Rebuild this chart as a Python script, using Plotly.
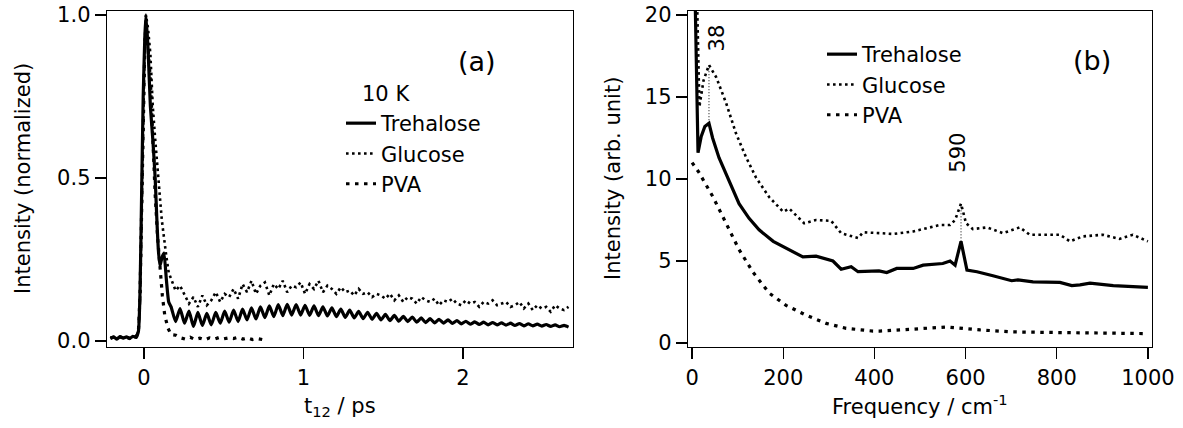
import plotly.graph_objects as go

# ---------------- Panel (a): time domain ----------------
t_early = [-0.21, -0.19, -0.17, -0.15, -0.13, -0.11, -0.09, -0.07, -0.05, -0.035,
           -0.025, -0.015, -0.005, 0.005, 0.012, 0.025, 0.04, 0.055, 0.07, 0.08,
           0.09, 0.1, 0.112, 0.125, 0.14, 0.155]
tre_early = [0.008, 0.013, 0.006, 0.014, 0.009, 0.013, 0.008, 0.015, 0.012, 0.03,
             0.15, 0.45, 0.75, 0.93, 1.0, 0.9, 0.72, 0.62, 0.5, 0.38,
             0.28, 0.23, 0.255, 0.27, 0.19, 0.12]
glu_early = [0.01, 0.012, 0.008, 0.013, 0.01, 0.012, 0.009, 0.014, 0.012, 0.03,
             0.12, 0.4, 0.72, 0.92, 1.0, 0.96, 0.88, 0.72, 0.62, 0.55,
             0.48, 0.44, 0.37, 0.31, 0.26, 0.21]

t_late = [0.170, 0.198, 0.226, 0.254, 0.282, 0.310, 0.338, 0.366, 0.394, 0.422,
          0.450, 0.478, 0.506, 0.534, 0.562, 0.590, 0.618, 0.646, 0.674, 0.702,
          0.730, 0.758, 0.786, 0.814, 0.842, 0.870, 0.898, 0.926, 0.954, 0.982,
          1.010, 1.038, 1.066, 1.094, 1.122, 1.150, 1.178, 1.206, 1.234, 1.262,
          1.290, 1.318, 1.346, 1.374, 1.402, 1.430, 1.458, 1.486, 1.514, 1.542,
          1.570, 1.598, 1.626, 1.654, 1.682, 1.710, 1.738, 1.766, 1.794, 1.822,
          1.850, 1.878, 1.906, 1.934, 1.962, 1.990, 2.018, 2.046, 2.074, 2.102,
          2.130, 2.158, 2.186, 2.214, 2.242, 2.270, 2.298, 2.326, 2.354, 2.382,
          2.410, 2.438, 2.466, 2.494, 2.522, 2.550, 2.578, 2.606, 2.634, 2.662]
tre_late = [0.105, 0.060, 0.100, 0.055, 0.092, 0.045, 0.088, 0.048, 0.085, 0.050,
            0.088, 0.055, 0.092, 0.058, 0.095, 0.060, 0.098, 0.065, 0.102, 0.068,
            0.105, 0.072, 0.108, 0.075, 0.112, 0.078, 0.113, 0.080, 0.112, 0.080,
            0.110, 0.079, 0.108, 0.078, 0.105, 0.077, 0.102, 0.075, 0.098, 0.073,
            0.095, 0.071, 0.091, 0.069, 0.088, 0.067, 0.085, 0.065, 0.082, 0.063,
            0.079, 0.061, 0.076, 0.060, 0.074, 0.058, 0.071, 0.057, 0.069, 0.056,
            0.067, 0.055, 0.065, 0.054, 0.063, 0.053, 0.061, 0.052, 0.059, 0.051,
            0.058, 0.050, 0.057, 0.050, 0.056, 0.049, 0.055, 0.048, 0.054, 0.047,
            0.053, 0.047, 0.052, 0.046, 0.051, 0.045, 0.050, 0.044, 0.048, 0.043]
glu_late = [0.19, 0.155, 0.17, 0.14, 0.115, 0.135, 0.105, 0.14, 0.11, 0.125,
            0.15, 0.12, 0.145, 0.135, 0.16, 0.13, 0.175, 0.15, 0.185, 0.145,
            0.17, 0.18, 0.14, 0.175, 0.16, 0.185, 0.15, 0.17, 0.165, 0.18,
            0.145, 0.175, 0.16, 0.185, 0.15, 0.17, 0.16, 0.145, 0.165, 0.15,
            0.155, 0.14, 0.16, 0.145, 0.15, 0.135, 0.145, 0.14, 0.13, 0.145,
            0.125, 0.14, 0.12, 0.135, 0.13, 0.115, 0.135, 0.125, 0.12, 0.13,
            0.11, 0.125, 0.12, 0.13, 0.115, 0.11, 0.125, 0.115, 0.12, 0.105,
            0.12, 0.115, 0.125, 0.11, 0.115, 0.12, 0.105, 0.11, 0.12, 0.10,
            0.115, 0.095, 0.11, 0.10, 0.105, 0.09, 0.11, 0.10, 0.095, 0.105]

pva_t = [-0.21, -0.19, -0.17, -0.15, -0.13, -0.11, -0.09, -0.07, -0.05, -0.035,
         -0.025, -0.015, -0.005, 0.005, 0.012, 0.025, 0.04, 0.055, 0.07, 0.085,
         0.1, 0.115, 0.13, 0.15, 0.17, 0.2, 0.23, 0.26, 0.29, 0.32,
         0.35, 0.38, 0.41, 0.44, 0.47, 0.5, 0.53, 0.56, 0.59, 0.62,
         0.65, 0.68, 0.71, 0.74, 0.77]
pva_I = [0.01, 0.012, 0.008, 0.013, 0.009, 0.012, 0.008, 0.014, 0.012, 0.03,
         0.14, 0.42, 0.72, 0.9, 0.96, 0.9, 0.8, 0.62, 0.45, 0.32,
         0.22, 0.14, 0.08, 0.04, 0.02, 0.018, 0.01, 0.006, 0.012, 0.005,
         0.009, 0.004, 0.01, 0.006, 0.011, 0.007, 0.01, 0.008, 0.012, 0.006,
         0.01, 0.005, 0.008, 0.004, 0.002]

tre_t = t_early + t_late
tre_I = tre_early + tre_late
glu_t = t_early + t_late
glu_I = glu_early + glu_late

# ---------------- Panel (b): frequency domain ----------------
f_tre = [6, 13, 20, 28, 37, 45, 59, 81, 103, 125, 147, 178, 206, 228, 243, 272, 294,
         309, 327, 349, 364, 410, 427, 449, 485, 507, 550, 566, 577, 590, 603, 625,
         660, 701, 715, 748, 807, 833, 851, 873, 924, 960, 1000]
s_tre = [22.0, 11.6, 12.6, 13.2, 13.4, 12.5, 11.3, 9.9, 8.5, 7.6, 6.9, 6.2, 5.8, 5.5,
         5.25, 5.3, 5.1, 5.0, 4.5, 4.65, 4.35, 4.4, 4.3, 4.55, 4.55, 4.75, 4.85, 5.0,
         4.75, 6.2, 4.45, 4.35, 4.1, 3.8, 3.85, 3.73, 3.7, 3.5, 3.55, 3.65, 3.5, 3.43, 3.4]
f_glu = [10, 16, 25, 37, 53, 75, 96, 118, 140, 169, 200, 213, 246, 272, 305, 327, 364,
         375, 412, 441, 485, 515, 544, 566, 577, 590, 601, 616, 647, 682, 719, 741,
         807, 829, 857, 901, 938, 967, 1000]
s_glu = [22.0, 14.4, 16.0, 16.95, 16.2, 14.6, 12.8, 11.35, 10.1, 8.9, 8.0, 8.2, 7.3,
         7.5, 7.45, 6.7, 6.4, 6.75, 6.7, 6.65, 6.8, 7.0, 7.2, 7.2, 7.5, 8.5, 7.3, 6.95,
         7.05, 6.7, 7.05, 6.6, 6.6, 6.2, 6.5, 6.6, 6.35, 6.6, 6.2]
f_pva = [0, 15, 46, 75, 103, 134, 169, 206, 250, 294, 338, 397, 412, 485, 559, 632,
         704, 779, 851, 923, 989]
s_pva = [11.0, 10.4, 8.9, 7.3, 5.7, 4.3, 3.05, 2.3, 1.7, 1.2, 0.9, 0.73, 0.73, 0.85,
         0.98, 0.8, 0.68, 0.65, 0.62, 0.6, 0.58]

peak_freqs = [37, 590]
peak_labels = ["38", "590"]

names = ["Trehalose", "Glucose", "PVA"]

FONT = "DejaVu Sans, Liberation Sans, Arial, sans-serif"
FS = 21
W, H = 1183, 428

styles = {
    "Trehalose": dict(color="black", width=3.2),
    "Glucose": dict(color="black", width=2.6, dash="2.6px,3.4px"),
    "PVA": dict(color="black", width=3.2, dash="3.5px,5.5px"),
}

fig = go.Figure()

for nm, xs, ys in zip(names, [tre_t, glu_t, pva_t], [tre_I, glu_I, pva_I]):
    line = dict(styles[nm])
    if nm == "Trehalose":
        line.update(shape="spline", smoothing=0.5)
    fig.add_trace(go.Scatter(x=xs, y=ys, mode="lines", name=nm, line=line,
                             xaxis="x", yaxis="y", legend="legend"))

for nm, xs, ys in zip(names, [f_tre, f_glu, f_pva], [s_tre, s_glu, s_pva]):
    fig.add_trace(go.Scatter(x=xs, y=ys, mode="lines", name=nm, line=styles[nm],
                             xaxis="x2", yaxis="y2", legend="legend2"))

# thin dotted connectors between trehalose and glucose peaks
for pf in peak_freqs:
    yt = s_tre[f_tre.index(pf)]
    yg = s_glu[f_glu.index(pf)]
    fig.add_trace(go.Scatter(x=[pf, pf], y=[yt, yg], mode="lines", showlegend=False,
                             line=dict(color="black", width=1, dash="1px,2px"),
                             xaxis="x2", yaxis="y2"))

# screen-pixel -> paper fraction
px = lambda v: v / W
py = lambda v: 1 - v / H

axis_common = dict(showline=True, mirror=True, linecolor="black", linewidth=1.3,
                   ticks="outside", ticklen=11, tickwidth=1.3, tickcolor="black",
                   showgrid=False, zeroline=False, automargin=False,
                   ticklabeloverflow="allow",
                   tickfont=dict(family=FONT, size=FS, color="black"))

fig.update_layout(
    width=W, height=H,
    margin=dict(l=0, r=0, t=0, b=0, autoexpand=False),
    paper_bgcolor="white", plot_bgcolor="white",
    xaxis=dict(domain=[px(107), px(573)], range=[-0.232, 2.69], tickvals=[0, 1, 2],
               anchor="y", **axis_common),
    yaxis=dict(domain=[py(347), py(11)], range=[-0.018, 1.012],
               tickvals=[0, 0.5, 1.0], tickformat=".1f", anchor="x", **axis_common),
    xaxis2=dict(domain=[px(688), px(1152)], range=[-9, 1009],
                tickvals=[0, 200, 400, 600, 800, 1000], anchor="y2", **axis_common),
    yaxis2=dict(domain=[py(347), py(11)], range=[-0.24, 20.24],
                tickvals=[0, 5, 10, 15, 20], anchor="x2", **axis_common),
    legend=dict(x=px(341), y=py(103), xanchor="left", yanchor="top",
                bgcolor="rgba(0,0,0,0)", borderwidth=0, traceorder="normal",
                font=dict(family=FONT, size=FS, color="black")),
    legend2=dict(x=px(822), y=py(34), xanchor="left", yanchor="top",
                 bgcolor="rgba(0,0,0,0)", borderwidth=0, traceorder="normal",
                 font=dict(family=FONT, size=FS, color="black")),
    showlegend=True,
    hovermode=False,
)

ann_font = dict(family=FONT, size=FS, color="black")


def pann(text, x, y, size=FS, angle=0):
    return dict(text=text, x=px(x), y=py(y), xref="paper", yref="paper",
                xanchor="center", yanchor="middle", textangle=angle,
                showarrow=False, font=dict(family=FONT, size=size, color="black"))


annotations = [
    pann("(a)", 477, 61, size=27),
    pann("(b)", 1092, 60, size=27),
    pann("10 K", 386, 94),
    pann("Intensity (normalized)", 23, 179, angle=-90),
    pann("Intensity (arb. unit)", 613, 179, angle=-90),
    pann("t<sub>12</sub> / ps", 340, 407),
    pann("Frequency / cm<sup>-1</sup>", 920, 405),
]
label_shift = {"38": (9, 12), "590": (-3, 29)}
for pf, lab in zip(peak_freqs, peak_labels):
    yg = s_glu[f_glu.index(pf)]
    dx, dy = label_shift[lab]
    annotations.append(dict(text=lab, x=pf, y=yg, xref="x2", yref="y2",
                            xanchor="center", yanchor="bottom", xshift=dx, yshift=dy,
                            textangle=-90, showarrow=False, font=ann_font))
fig.update_layout(annotations=annotations)

# remove the default page margin so the figure fills the window exactly
fig.write_html("out.html",
               config={"displayModeBar": False, "staticPlot": True},
               post_script="document.body.style.margin='0';"
                           "document.body.style.overflow='hidden';")
